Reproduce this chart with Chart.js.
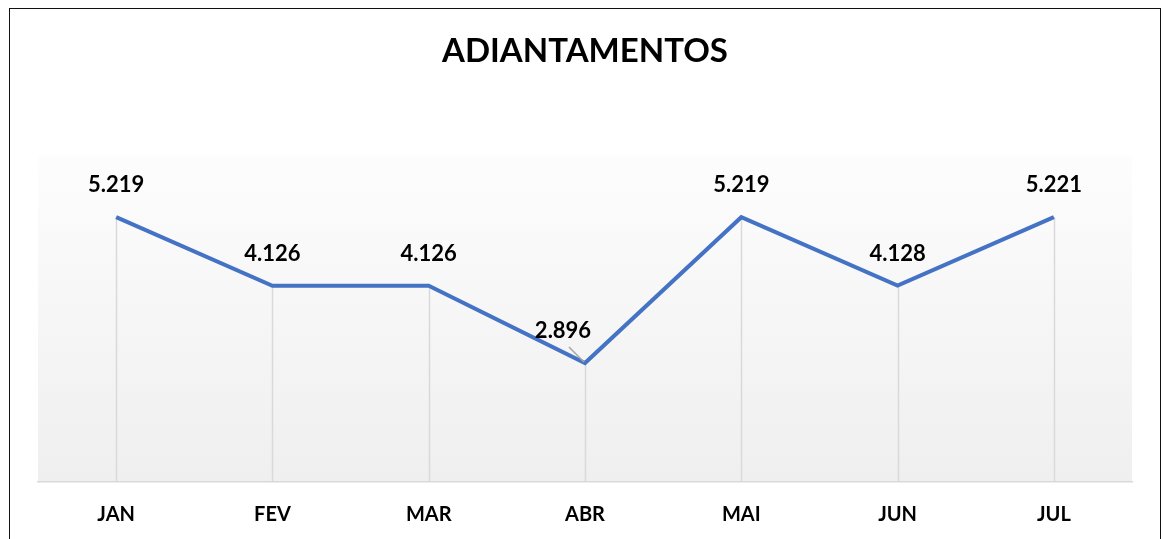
<!DOCTYPE html>
<html>
<head>
<meta charset="utf-8">
<script src="https://cdn.jsdelivr.net/npm/chart.js@4/dist/chart.umd.min.js"></script>
<style>
  html, body { margin: 0; padding: 0; background: #ffffff; }
  #wrap { position: relative; width: 1167px; height: 539px; overflow: hidden; }
  #frame { position: absolute; left: 9px; top: 8px; width: 1152px; height: 560px; border: 1.5px solid #111; box-sizing: border-box; pointer-events: none; }
  canvas { position: absolute; left: 0; top: 0; }
</style>
</head>
<body>
<div id="wrap">
  <canvas id="c" width="1167" height="563"></canvas>
  <div id="frame"></div>
</div>
<script>
const categories = ["JAN", "FEV", "MAR", "ABR", "MAI", "JUN", "JUL"];
const values = [5.219, 4.126, 4.126, 2.896, 5.219, 4.128, 5.221];
const valueLabels = ["5.219", "4.126", "4.126", "2.896", "5.219", "4.128", "5.221"];
const chartTitle = "ADIANTAMENTOS";

const FONT = "Lato, 'Open Sans', sans-serif";

const bgPlugin = {
  id: 'bg',
  beforeDraw(chart) {
    const {ctx, chartArea: a} = chart;
    const g = ctx.createLinearGradient(0, a.top, 0, a.bottom);
    g.addColorStop(0, '#fdfdfd');
    g.addColorStop(1, '#efefef');
    ctx.save();
    ctx.fillStyle = g;
    ctx.fillRect(a.left, a.top, a.right - a.left, a.bottom - a.top);
    ctx.restore();
  }
};

const dropPlugin = {
  id: 'drop',
  beforeDatasetsDraw(chart) {
    const {ctx, chartArea: a} = chart;
    const meta = chart.getDatasetMeta(0);
    ctx.save();
    ctx.strokeStyle = '#d9d9d9';
    ctx.lineWidth = 1.5;
    meta.data.forEach(pt => {
      ctx.beginPath();
      ctx.moveTo(Math.round(pt.x) + 0.5, pt.y);
      ctx.lineTo(Math.round(pt.x) + 0.5, a.bottom);
      ctx.stroke();
    });
    ctx.restore();
  }
};

const labelPlugin = {
  id: 'vlabels',
  afterDatasetsDraw(chart) {
    const {ctx} = chart;
    const meta = chart.getDatasetMeta(0);
    ctx.save();
    ctx.font = "bold 22px " + FONT;
    ctx.fillStyle = '#000';
    ctx.textAlign = 'center';
    ctx.textBaseline = 'middle';
    meta.data.forEach((pt, i) => {
      let dx = 0;
      if (i === 3) {
        dx = -22;
        ctx.save();
        ctx.strokeStyle = '#a6a6a6';
        ctx.lineWidth = 1.5;
        ctx.beginPath();
        ctx.moveTo(pt.x - 16, pt.y - 16);
        ctx.lineTo(pt.x - 1, pt.y - 1);
        ctx.stroke();
        ctx.restore();
      }
      ctx.fillText(valueLabels[i], pt.x + dx, pt.y - 32);
    });
    ctx.restore();
  }
};

new Chart(document.getElementById('c'), {
  type: 'line',
  data: {
    labels: categories,
    datasets: [{
      data: values,
      borderColor: '#4472C4',
      borderWidth: 4,
      pointRadius: 0,
      tension: 0,
      fill: false
    }]
  },
  options: {
    responsive: false,
    animation: false,
    layout: { padding: { left: 38, right: 35, bottom: 15, top: 0 } },
    plugins: {
      legend: { display: false },
      tooltip: { enabled: false },
      title: {
        display: true,
        text: chartTitle,
        color: '#000',
        font: { family: FONT, size: 33, weight: 'bold' },
        padding: { top: 32, bottom: 84 }
      }
    },
    scales: {
      x: {
        offset: true,
        grid: { display: false, drawTicks: false },
        border: { display: true, color: '#d9d9d9', width: 1.5 },
        ticks: { color: '#000', padding: 21, font: { family: FONT, size: 20, weight: 'bold' } }
      },
      y: {
        display: false,
        min: 1,
        max: 6.2
      }
    }
  },
  plugins: [bgPlugin, dropPlugin, labelPlugin]
});
</script>
</body>
</html>
